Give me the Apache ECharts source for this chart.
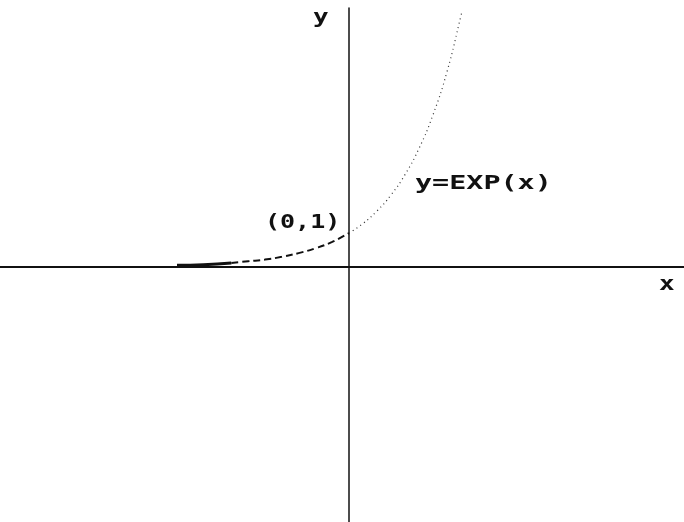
<!DOCTYPE html>
<html>
<head>
<meta charset="utf-8">
<script src="https://cdn.jsdelivr.net/npm/echarts@6/dist/echarts.min.js"></script>
<style>
  html, body { margin: 0; padding: 0; background: #fff; }
  #main { width: 684px; height: 522px; }
</style>
</head>
<body>
<div id="main"></div>
<script>
// curve y=EXP(x), points
var solidPts = [[-3.07, 0.05], [-2.6, 0.07], [-2.1, 0.12]];
var dashedPts = [[-2.1, 0.12], [-1.8, 0.17], [-1.5, 0.22], [-1.2, 0.3], [-0.9, 0.41],
                 [-0.6, 0.55], [-0.3, 0.74], [0, 1]];
var dottedPts = [[0, 1], [0.25, 1.28], [0.5, 1.65], [0.75, 2.12], [1.0, 2.72],
                 [1.25, 3.49], [1.5, 4.48], [1.75, 5.75], [2.0, 7.4], [2.02, 7.55]];

var xRange = [-6.23, 5.98];
var yRange = [-7.5, 7.62];

var chart = echarts.init(document.getElementById('main'));

var txtFont = 'bold 20px "DejaVu Sans Mono"';

function label(text, x, y, sx) {
    return {
        type: 'text',
        x: x, y: y,
        scaleX: sx,
        style: { text: text, font: txtFont, fill: '#111', textVerticalAlign: 'top' }
    };
}

chart.setOption({
    backgroundColor: '#fff',
    animation: false,
    grid: { left: 0, right: 0, top: 8, bottom: 0 },
    xAxis: {
        type: 'value', min: xRange[0], max: xRange[1],
        axisLine: { onZero: true, lineStyle: { color: '#111', width: 2 } },
        axisTick: { show: false }, axisLabel: { show: false }, splitLine: { show: false }
    },
    yAxis: {
        type: 'value', min: yRange[0], max: yRange[1],
        axisLine: { onZero: true, lineStyle: { color: '#111', width: 1.5 } },
        axisTick: { show: false }, axisLabel: { show: false }, splitLine: { show: false }
    },
    series: [{
        type: 'line', data: solidPts, smooth: true, symbol: 'none',
        lineStyle: { color: '#111', width: 3 }
    }, {
        type: 'line', data: dashedPts, smooth: true, symbol: 'none',
        lineStyle: { color: '#111', width: 2, type: [7, 4] }
    }, {
        type: 'line', data: dottedPts, smooth: true, symbol: 'none',
        lineStyle: { color: '#333', width: 1.2, type: [1, 3.5] }
    }],
    graphic: [
        label('y', 313, 8, 1.3),
        label('x', 659, 275, 1.3),
        label('(0,1)', 265, 213, 1.25),
        label('y=EXP(x)', 415, 174, 1.42)
    ]
});
</script>
</body>
</html>
